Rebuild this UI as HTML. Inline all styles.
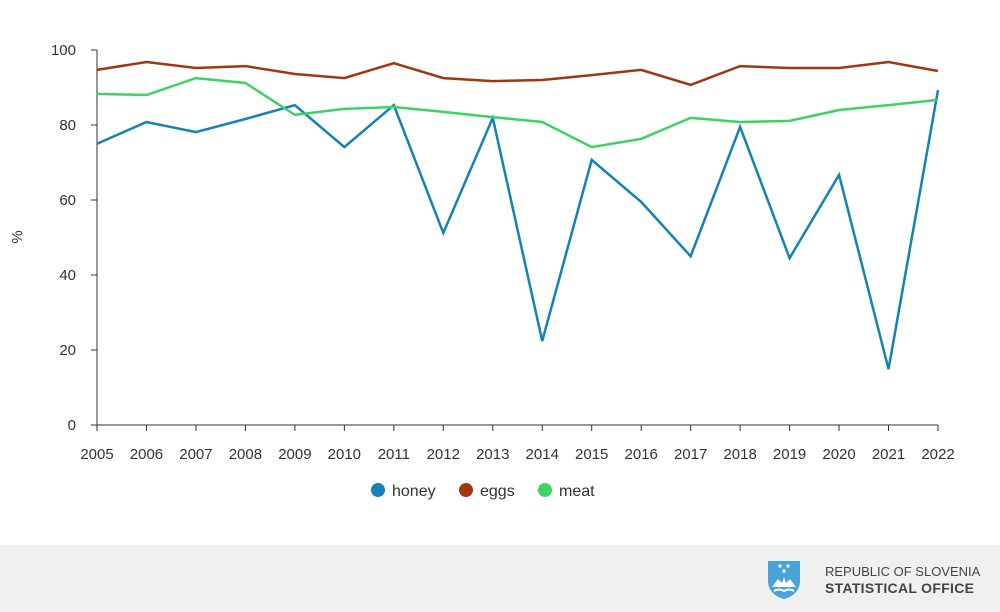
<!DOCTYPE html>
<html><head><meta charset="utf-8"><style>
body{margin:0;width:1000px;height:612px;background:#fff;font-family:"Liberation Sans",sans-serif;overflow:hidden;position:relative}
#footer{position:absolute;left:0;top:545px;width:1000px;height:67px;background:#f0f0f0}
</style></head><body>
<svg id="chart" width="1000" height="545" style="position:absolute;left:0;top:0"></svg>
<div id="footer">
<svg width="40" height="44" style="position:absolute;left:764px;top:12px" viewBox="0 0 40 44">
<path d="M4 4 H36 V24 C36 34 28 40 20 42 C12 40 4 34 4 24 Z" fill="#4aa3d8"/>
<circle cx="16" cy="9" r="1.6" fill="#fff"/><circle cx="24" cy="9" r="1.6" fill="#fff"/><circle cx="20" cy="14" r="1.6" fill="#fff"/>
<path d="M8 30 L14 22 L18 26 L20 20 L22 26 L26 22 L32 30 Z" fill="#fff"/>
<path d="M10 34 Q15 31 20 34 Q25 31 30 34" stroke="#fff" stroke-width="2" fill="none"/>
</svg>
<div style="position:absolute;left:825px;top:19px;font-size:13px;color:#444;line-height:16px">REPUBLIC OF SLOVENIA<br><b style="font-size:14px;letter-spacing:0.3px">STATISTICAL OFFICE</b></div>
</div>
<script>
const years=["2005","2006","2007","2008","2009","2010","2011","2012","2013","2014","2015","2016","2017","2018","2019","2020","2021","2022"];
const honey=[75,80.8,78.1,81.6,85.3,74.1,85.3,51.2,81.9,22.4,70.7,59.5,45,79.5,44.5,66.7,14.9,89.3];
const eggs=[94.7,96.8,95.2,95.7,93.6,92.5,96.5,92.5,91.7,92,93.3,94.7,90.7,95.7,95.2,95.2,96.8,94.4];
const meat=[88.3,88,92.5,91.2,82.7,84.3,84.8,83.5,82.1,80.8,74.1,76.3,81.9,80.8,81.1,84,85.3,86.7];
const yTicks=[0,20,40,60,80,100];
const seriesNames=["honey","eggs","meat"];
const colors=["#1482b4","#a0370f","#3cd264"];
const svg=document.getElementById('chart');
const NS='http://www.w3.org/2000/svg';
const X0=97,X1=938,Y0=425,Y1=50;
const xs=i=>X0+(X1-X0)*i/(years.length-1);
const ys=v=>Y0-(Y0-Y1)*v/100;
function mk(t,a){const e=document.createElementNS(NS,t);for(const k in a)e.setAttribute(k,a[k]);svg.appendChild(e);return e;}
let ax=mk('line',{x1:X0,y1:Y1,x2:X0,y2:Y0,stroke:'#333','stroke-width':1});


let bx=mk('line',{x1:X0,y1:Y0,x2:X1,y2:Y0,stroke:'#333','stroke-width':1});


yTicks.forEach(v=>{
 let t=mk('line',{x1:X0-6,y1:ys(v),x2:X0,y2:ys(v),stroke:'#333'});
 
 
 let l=mk('text',{x:X0-21,y:ys(v)+5,'text-anchor':'end','font-size':15,fill:'#333'});l.textContent=v;
 
 
});
years.forEach((y,i)=>{
 let t=mk('line',{x1:xs(i),y1:Y0,x2:xs(i),y2:Y0+6,stroke:'#333'});
 
 
 let l=mk('text',{x:xs(i),y:459,'text-anchor':'middle','font-size':15,fill:'#333'});l.textContent=y;
 
 
});
let yt=mk('text',{x:22,y:237,'text-anchor':'middle','font-size':15,fill:'#333',transform:'rotate(-90 22 237)'});yt.textContent='%';


[honey,eggs,meat].forEach((d,s)=>{
 let p=mk('polyline',{points:d.map((v,i)=>xs(i)+','+ys(v)).join(' '),fill:'none',stroke:colors[s],'stroke-width':2.5,'stroke-linejoin':'miter'});
 
 
});
const lx=[378,466,545];
seriesNames.forEach((n,s)=>{
 let c=mk('circle',{cx:lx[s],cy:490,r:7,fill:colors[s]});
 
 
 let t=mk('text',{x:lx[s]+14,y:496,'font-size':16,fill:'#333'});t.textContent=n;
 
 
});
</script>
</body></html>
